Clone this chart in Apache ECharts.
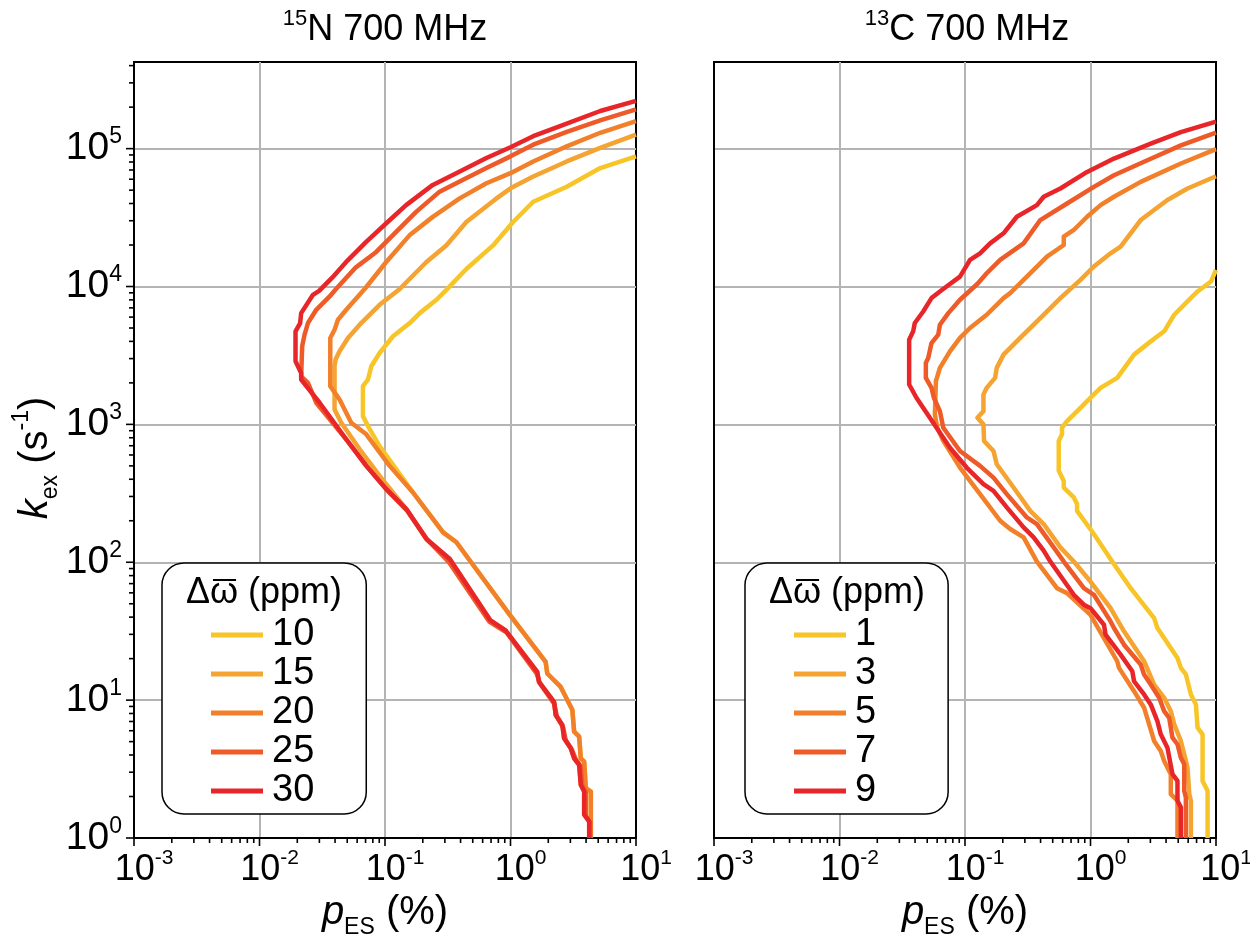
<!DOCTYPE html>
<html><head><meta charset="utf-8">
<script src="https://cdn.jsdelivr.net/npm/echarts@6/dist/echarts.min.js"></script>
<style>html,body{margin:0;padding:0;background:#fff}#c{width:1250px;height:937px}</style>
</head><body><div id="c"></div>
<script>
// Values are stored as [log10(pES %), log10(kex s^-1)] pairs.
// 15N 700 MHz panel, series by delta-omega (ppm)
const n15_10 = [[1.0,4.944],[0.715,4.859],[0.448,4.724],[0.181,4.615],[0.021,4.468],[-0.139,4.298],[-0.352,4.127],[-0.511,3.976],[-0.59,3.904],[-0.723,3.807],[-0.803,3.735],[-0.936,3.639],[-1.043,3.518],[-1.109,3.422],[-1.136,3.325],[-1.176,3.277],[-1.176,3.06],[-1.136,2.988],[-1.043,2.843],[-0.91,2.675],[-0.777,2.506],[-0.537,2.217],[-0.431,2.145],[-0.33,2.02],[-0.013,1.627],[0.28,1.277],[0.293,1.193],[0.4,1.096],[0.493,0.928],[0.507,0.771],[0.547,0.735],[0.56,0.578],[0.587,0.554],[0.6,0.361],[0.64,0.337],[0.64,0]];
const n15_15 = [[1.0,5.102],[0.715,5.005],[0.448,4.907],[0.181,4.798],[0,4.712],[-0.112,4.639],[-0.352,4.468],[-0.512,4.298],[-0.672,4.176],[-0.885,3.98],[-1.043,3.867],[-1.149,3.771],[-1.202,3.723],[-1.295,3.627],[-1.362,3.53],[-1.394,3.47],[-1.402,3.422],[-1.402,3.108],[-1.348,3.012],[-1.202,2.819],[-1.043,2.627],[-0.83,2.386],[-0.67,2.169],[-0.484,2.024],[-0.16,1.578],[-0.04,1.506],[0.213,1.205],[0.227,1.133],[0.347,0.988],[0.36,0.892],[0.413,0.819],[0.427,0.723],[0.48,0.651],[0.507,0.578],[0.547,0.53],[0.56,0.386],[0.587,0.337],[0.587,0.169],[0.627,0.12],[0.627,0]];
const n15_20 = [[1.0,5.2],[0.715,5.115],[0.448,5.017],[0.181,4.907],[0,4.822],[-0.192,4.749],[-0.405,4.639],[-0.619,4.505],[-0.805,4.371],[-0.992,4.176],[-1.152,3.993],[-1.309,3.831],[-1.375,3.759],[-1.402,3.687],[-1.436,3.627],[-1.436,3.277],[-1.362,3.181],[-1.269,3.012],[-1.149,2.928],[-0.963,2.699],[-0.777,2.506],[-0.537,2.217],[-0.431,2.145],[-0.33,2.02],[-0.013,1.627],[0.28,1.277],[0.293,1.193],[0.4,1.096],[0.493,0.928],[0.507,0.771],[0.547,0.735],[0.56,0.578],[0.587,0.554],[0.6,0.361],[0.64,0.337],[0.64,0]];
const n15_25 = [[1.0,5.285],[0.715,5.205],[0.448,5.122],[0.181,5.029],[0,4.944],[-0.192,4.859],[-0.405,4.761],[-0.565,4.688],[-0.752,4.541],[-0.885,4.42],[-1.072,4.249],[-1.232,4.139],[-1.392,3.98],[-1.441,3.928],[-1.548,3.831],[-1.614,3.735],[-1.641,3.651],[-1.66,3.566],[-1.668,3.349],[-1.614,3.301],[-1.548,3.157],[-1.3,2.88],[-1.14,2.69],[-0.98,2.52],[-0.82,2.37],[-0.66,2.16],[-0.49,2.0],[-0.17,1.57],[-0.03,1.49],[0.21,1.19],[0.235,1.12],[0.35,0.97],[0.37,0.88],[0.42,0.8],[0.44,0.71],[0.49,0.64],[0.52,0.57],[0.56,0.52],[0.57,0.38],[0.6,0.33],[0.6,0.16],[0.635,0.11],[0.635,0]];
const n15_30 = [[1.0,5.346],[0.715,5.273],[0.395,5.163],[0.181,5.09],[0,5.01],[-0.192,4.932],[-0.432,4.822],[-0.619,4.737],[-0.832,4.59],[-0.979,4.468],[-1.152,4.322],[-1.299,4.188],[-1.419,4.066],[-1.525,3.968],[-1.574,3.94],[-1.668,3.807],[-1.676,3.735],[-1.713,3.675],[-1.713,3.458],[-1.668,3.373],[-1.668,3.325],[-1.521,3.157],[-1.309,2.892],[-1.149,2.699],[-0.989,2.53],[-0.83,2.386],[-0.67,2.169],[-0.484,2.024],[-0.16,1.578],[-0.04,1.506],[0.213,1.205],[0.227,1.133],[0.347,0.988],[0.36,0.892],[0.413,0.819],[0.427,0.723],[0.48,0.651],[0.507,0.578],[0.547,0.53],[0.56,0.386],[0.587,0.337],[0.587,0.169],[0.627,0.12],[0.627,0]];
// 13C 700 MHz panel
const c13_1 = [[1.0,4.12],[0.96,4.036],[0.853,3.964],[0.773,3.892],[0.667,3.795],[0.587,3.675],[0.48,3.602],[0.347,3.506],[0.213,3.337],[0.08,3.265],[-0.027,3.169],[-0.08,3.12],[-0.187,3.024],[-0.227,2.976],[-0.227,2.928],[-0.253,2.88],[-0.253,2.663],[-0.213,2.59],[-0.213,2.542],[-0.133,2.47],[-0.107,2.422],[-0.107,2.373],[0.027,2.205],[0.173,2.005],[0.32,1.812],[0.507,1.595],[0.533,1.523],[0.693,1.306],[0.72,1.234],[0.76,1.186],[0.8,1.041],[0.84,0.969],[0.853,0.8],[0.893,0.752],[0.893,0.414],[0.933,0.342],[0.933,0]];
const c13_3 = [[1.0,4.8],[0.773,4.711],[0.613,4.627],[0.4,4.482],[0.24,4.289],[0.16,4.241],[0.027,4.145],[-0.08,4.048],[-0.24,3.916],[-0.4,3.771],[-0.56,3.627],[-0.693,3.506],[-0.747,3.41],[-0.76,3.337],[-0.827,3.265],[-0.853,3.217],[-0.853,3.096],[-0.901,3.048],[-0.853,3.0],[-0.848,2.88],[-0.773,2.807],[-0.747,2.711],[-0.613,2.542],[-0.48,2.373],[-0.373,2.277],[-0.24,2.108],[-0.133,2.005],[0.0,1.86],[0.16,1.667],[0.267,1.499],[0.427,1.282],[0.507,1.113],[0.587,1.017],[0.64,0.92],[0.667,0.824],[0.72,0.704],[0.747,0.607],[0.773,0.511],[0.787,0.318],[0.8,0.27],[0.8,0]];
const c13_5 = [[1.0,4.996],[0.72,4.892],[0.4,4.759],[0.187,4.651],[0.08,4.59],[-0.027,4.506],[-0.133,4.41],[-0.213,4.361],[-0.213,4.301],[-0.347,4.217],[-0.507,4.072],[-0.64,3.952],[-0.693,3.916],[-0.827,3.795],[-0.96,3.699],[-1.04,3.627],[-1.12,3.53],[-1.2,3.41],[-1.232,3.313],[-1.24,3.072],[-1.221,2.976],[-1.173,2.88],[-1.04,2.687],[-0.88,2.494],[-0.72,2.301],[-0.64,2.241],[-0.533,2.181],[-0.427,2.005],[-0.267,1.812],[-0.187,1.776],[0.0,1.619],[0.213,1.282],[0.227,1.234],[0.347,1.065],[0.427,0.945],[0.507,0.704],[0.56,0.631],[0.587,0.559],[0.64,0.463],[0.64,0.318],[0.693,0.27],[0.693,0]];
const c13_7 = [[1.0,5.116],[0.72,5.024],[0.453,4.916],[0.187,4.807],[0.027,4.723],[-0.187,4.602],[-0.4,4.482],[-0.533,4.313],[-0.72,4.193],[-0.827,4.096],[-0.9,4.02],[-1.04,3.904],[-1.133,3.807],[-1.2,3.723],[-1.213,3.651],[-1.267,3.59],[-1.293,3.482],[-1.312,3.446],[-1.312,3.337],[-1.267,3.265],[-1.248,3.193],[-1.2,3.096],[-1.173,2.976],[-1.04,2.807],[-0.88,2.699],[-0.773,2.614],[-0.667,2.494],[-0.507,2.325],[-0.427,2.277],[-0.293,2.108],[-0.213,2.005],[-0.053,1.812],[0.027,1.764],[0.16,1.571],[0.187,1.523],[0.267,1.402],[0.4,1.258],[0.427,1.186],[0.48,1.113],[0.547,1.017],[0.587,0.92],[0.627,0.872],[0.653,0.728],[0.693,0.68],[0.72,0.583],[0.747,0.535],[0.747,0.342],[0.76,0.294],[0.76,0]];
const c13_9 = [[1.0,5.196],[0.72,5.12],[0.48,5.036],[0.187,4.928],[-0.027,4.831],[-0.24,4.711],[-0.373,4.651],[-0.427,4.59],[-0.587,4.506],[-0.693,4.386],[-0.8,4.313],[-0.88,4.241],[-0.96,4.193],[-1.04,4.072],[-1.147,4.0],[-1.2,3.964],[-1.267,3.916],[-1.333,3.819],[-1.4,3.735],[-1.413,3.675],[-1.445,3.614],[-1.445,3.289],[-1.387,3.193],[-1.28,3.048],[-1.2,2.94],[-1.12,2.831],[-0.987,2.687],[-0.853,2.566],[-0.773,2.518],[-0.667,2.398],[-0.533,2.253],[-0.453,2.181],[-0.373,2.084],[-0.32,2.005],[-0.133,1.764],[-0.053,1.692],[0.0,1.667],[0.107,1.547],[0.12,1.475],[0.24,1.33],[0.333,1.21],[0.347,1.137],[0.427,1.041],[0.48,0.969],[0.533,0.848],[0.56,0.752],[0.613,0.655],[0.653,0.463],[0.693,0.414],[0.693,0.27],[0.72,0.222],[0.72,0]];

const n15Names = ['10','15','20','25','30'];
const c13Names = ['1','3','5','7','9'];
const colors = ['#F8C528','#F5A331','#F2802A','#EE5A28','#E8262A'];
const xRange = [0.001, 10];
const yRange = [1, 425000];
const panelTitles = [['15','N 700 MHz'],['13','C 700 MHz']];
const legendTitleParts = ['Δ', 'ω', ' (ppm)'];

const FONT = '"Liberation Sans", Arial, Helvetica, sans-serif';
const toVal = arr => arr.map(p => [Math.pow(10, p[0]), Math.pow(10, p[1])]);

function powLabel(v) {
  const l = Math.log10(v), e = Math.round(l);
  if (Math.abs(l - e) > 1e-6) return '';
  return '{b|10}{s|' + e + '}';
}
const xLabelRich = {
  b: {fontSize: 36, fontFamily: FONT, color: '#000', lineHeight: 44},
  s: {fontSize: 21, fontFamily: FONT, color: '#000', lineHeight: 27, verticalAlign: 'top'}
};
const yLabelRich = {
  b: {fontSize: 39, fontFamily: FONT, color: '#000', lineHeight: 46},
  s: {fontSize: 23, fontFamily: FONT, color: '#000', lineHeight: 28, verticalAlign: 'top'}
};

// tick positions (axis furniture, not data)
function tickData(withY) {
  const d = [];
  for (let e = -3; e <= 1; e++) {
    d.push([Math.pow(10, e), 1, 0]);
    if (e < 1) for (let m = 2; m <= 9; m++) d.push([m * Math.pow(10, e), 1, 1]);
  }
  if (withY) {
    for (let e = 0; e <= 5; e++) {
      d.push([0.001, Math.pow(10, e), 2]);
      for (let m = 2; m <= 9; m++) { const v = m * Math.pow(10, e); if (v < yRange[1]) d.push([0.001, v, 3]); }
    }
  }
  return d;
}
function tickRender(params, api) {
  const cs = params.coordSys;
  const kind = api.value(2);
  const p = api.coord([api.value(0), api.value(1)]);
  let shape;
  if (kind < 2) {
    const len = kind === 0 ? 8 : 5, yb = cs.y + cs.height;
    shape = {x1: p[0], y1: yb, x2: p[0], y2: yb + len};
  } else {
    const len = kind === 2 ? 8 : 5;
    shape = {x1: cs.x - len, y1: p[1], x2: cs.x, y2: p[1]};
  }
  return {type: 'line', shape: shape, style: {stroke: '#000', lineWidth: 1.6}};
}

const grids = [
  {left: 134, top: 62, width: 502, height: 776, show: true, borderColor: '#000', borderWidth: 2, backgroundColor: 'transparent', containLabel: false, outerBoundsMode: 'none'},
  {left: 714, top: 62, width: 502, height: 776, show: true, borderColor: '#000', borderWidth: 2, backgroundColor: 'transparent', containLabel: false, outerBoundsMode: 'none'}
];
const splitLine = {show: true, showMinLine: false, showMaxLine: false, lineStyle: {color: '#b4b4b4', width: 2}};
const nameRich = {
  i: {fontSize: 40, fontFamily: FONT, fontStyle: 'italic', color: '#000', lineHeight: 52},
  b: {fontSize: 40, fontFamily: FONT, color: '#000', lineHeight: 52},
  sub: {fontSize: 23, fontFamily: FONT, color: '#000', lineHeight: 24, verticalAlign: 'bottom'},
  sup: {fontSize: 23, fontFamily: FONT, color: '#000', lineHeight: 33, verticalAlign: 'top'}
};
function xAxisDef(g) {
  return {
    type: 'log', logBase: 10, gridIndex: g, min: xRange[0], max: xRange[1],
    axisLine: {show: true, onZero: false, lineStyle: {color: '#000', width: 2}},
    axisTick: {show: false}, minorTick: {show: false}, splitLine: splitLine,
    axisLabel: {formatter: powLabel, margin: 10, rich: xLabelRich, color: '#000', padding: [0, 0, 0, 20]},
    name: '{i|p}{sub|ES}{b| (%)}', nameLocation: 'middle', nameGap: 39,
    nameTextStyle: {rich: nameRich, fontSize: 40, fontFamily: FONT, color: '#000'}
  };
}
function yAxisDef(g, labels) {
  const a = {
    type: 'log', logBase: 10, gridIndex: g, min: yRange[0], max: yRange[1],
    axisLine: {show: true, onZero: false, lineStyle: {color: '#000', width: 2}},
    axisTick: {show: false}, minorTick: {show: false}, splitLine: splitLine,
    axisLabel: {show: labels, formatter: powLabel, margin: 12, rich: yLabelRich, color: '#000', showMaxLabel: false}
  };
  if (labels) {
    a.name = '{i|k}{sub|ex}{b| (s}{sup|-1}{b|)}';
    a.nameLocation = 'middle'; a.nameGap = 66; a.nameRotate = 90;
    a.nameTextStyle = {rich: nameRich, fontSize: 40, fontFamily: FONT, color: '#000', padding: [0, 16, 0, 0]};
  }
  return a;
}

const series = [];
[n15_10, n15_15, n15_20, n15_25, n15_30].forEach((d, i) => series.push({
  type: 'line', name: n15Names[i], xAxisIndex: 0, yAxisIndex: 0, data: toVal(d),
  showSymbol: false, symbol: 'none', clip: true, color: colors[i],
  lineStyle: {width: 4.5, color: colors[i], join: 'round'}, z: 2 + i, animation: false
}));
[c13_1, c13_3, c13_5, c13_7, c13_9].forEach((d, i) => series.push({
  type: 'line', name: c13Names[i], xAxisIndex: 1, yAxisIndex: 1, data: toVal(d),
  showSymbol: false, symbol: 'none', clip: true, color: colors[i],
  lineStyle: {width: 4.5, color: colors[i], join: 'round'}, z: 2 + i, animation: false
}));
series.push({type: 'custom', xAxisIndex: 0, yAxisIndex: 0, data: tickData(true), renderItem: tickRender, silent: true, clip: false, z: 20, animation: false});
series.push({type: 'custom', xAxisIndex: 1, yAxisIndex: 1, data: tickData(false), renderItem: tickRender, silent: true, clip: false, z: 20, animation: false});

function legendDef(names, left, padRight) {
  return {
    data: names, orient: 'vertical', left: left, top: 563, padding: [53, padRight, 4, 49],
    itemGap: 1, itemWidth: 52, itemHeight: 5, icon: 'rect', selectedMode: false,
    borderColor: '#000', borderWidth: 1.5, borderRadius: 22, backgroundColor: '#fff',
    textStyle: {fontSize: 38, fontFamily: FONT, color: '#000', lineHeight: 38, padding: [0, 0, 0, 4]}
  };
}
const titleRich = {
  s: {fontSize: 22, fontFamily: FONT, fill: '#000', lineHeight: 29, verticalAlign: 'top'},
  b: {fontSize: 36, fontFamily: FONT, fill: '#000', lineHeight: 44}
};
function titleText(x, t) {
  return {type: 'text', x: x, y: 30, z: 100, style: {text: '{s|' + t[0] + '}{b|' + t[1] + '}', rich: titleRich, align: 'center', verticalAlign: 'middle', fill: '#000'}};
}
// legend title "Δω̄ (ppm)" with an overline drawn above ω
const LT_SIZE = 36;
const mctx = document.createElement('canvas').getContext('2d');
mctx.font = LT_SIZE + 'px ' + FONT;
const wD = mctx.measureText(legendTitleParts[0]).width;
const wW = mctx.measureText(legendTitleParts[1]).width;
const wAll = mctx.measureText(legendTitleParts.join('')).width;
function legTitle(cx) {
  const x0 = cx - wAll / 2, y = 593;
  return [
    {type: 'text', x: x0, y: y, z: 100, style: {text: legendTitleParts.join(''), fontSize: LT_SIZE, fontFamily: FONT, fill: '#000', align: 'left', verticalAlign: 'middle'}},
    {type: 'line', z: 100, shape: {x1: x0 + wD + 3, y1: y - 13, x2: x0 + wD + wW - 2, y2: y - 13}, style: {stroke: '#000', lineWidth: 2}}
  ];
}

const chart = echarts.init(document.getElementById('c'), null, {renderer: 'canvas'});
chart.setOption({
  animation: false,
  backgroundColor: '#fff',
  grid: grids,
  xAxis: [xAxisDef(0), xAxisDef(1)],
  yAxis: [yAxisDef(0, true), yAxisDef(1, false)],
  legend: [legendDef(n15Names, 162, 52), legendDef(c13Names, 745, 72)],
  series: series,
  graphic: [titleText(385, panelTitles[0]), titleText(967, panelTitles[1])].concat(legTitle(264), legTitle(847))
});
</script></body></html>
